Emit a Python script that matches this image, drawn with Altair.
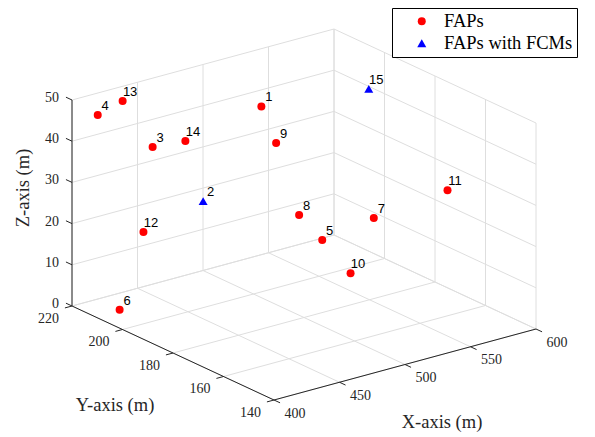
import altair as alt
import pandas as pd

# ---------------- data ----------------
fap_ids = [1, 2, 3, 4, 5, 6, 7, 8, 9, 10, 11, 12, 13, 14, 15]
fap_x = [506, 423, 423, 410, 485, 419, 534, 477, 498, 497, 571, 416, 429, 448, 588]
fap_y = [200, 180, 200, 215, 165, 211, 170, 170, 190, 160, 160, 200, 215, 200, 200]
fap_z = [45, 34.9, 42.3, 46.9, 24.4, 0, 24.1, 29.7, 39.7, 16.7, 30.5, 22.3, 48.7, 41.6, 42.2]
fap_kind = ["FAPs", "FAPs with FCMs", "FAPs", "FAPs", "FAPs", "FAPs", "FAPs", "FAPs",
            "FAPs", "FAPs", "FAPs", "FAPs", "FAPs", "FAPs", "FAPs with FCMs"]
series_names = ["FAPs", "FAPs with FCMs"]

x_ticks = [400, 450, 500, 550, 600]
y_ticks = [140, 160, 180, 200, 220]
z_ticks = [0, 10, 20, 30, 40, 50]
axis_titles = ["X-axis (m)", "Y-axis (m)", "Z-axis (m)"]

# ---------------- view / projection ----------------
X0, X1 = min(x_ticks), max(x_ticks)
Y0, Y1 = min(y_ticks), max(y_ticks)
Z0, Z1 = min(z_ticks), max(z_ticks)

W_PX, H_PX = 579, 424
P_O = (274.0, 400.0)      # screen position of (X0, Y0, Z0)
P_U = (262.0, -71.0)      # screen vector of the full x range
P_V = (-202.0, -94.0)     # screen vector of the full y range
P_W = (0.0, -206.0)       # screen vector of the full z range


def proj(xf, yf, zf):
    u = f"((datum.{xf}-{X0})/{X1 - X0})"
    v = f"((datum.{yf}-{Y0})/{Y1 - Y0})"
    w = f"((datum.{zf}-{Z0})/{Z1 - Z0})"
    sx = f"{P_O[0]}+{P_U[0]}*{u}+{P_V[0]}*{v}+{P_W[0]}*{w}"
    sy = f"{P_O[1]}+{P_U[1]}*{u}+{P_V[1]}*{v}+{P_W[1]}*{w}"
    return sx, sy


XSC = alt.Scale(domain=[8, 8 + W_PX], nice=False, zero=False)
YSC = alt.Scale(domain=[8, 8 + H_PX], nice=False, zero=False, reverse=True)

# ---------------- segments (grid, axes, ticks) ----------------
grid_rows, axis_rows, tick_rows = [], [], []
for xt in x_ticks:
    grid_rows.append((xt, Y1, Z0, xt, Y1, Z1))
    grid_rows.append((xt, Y0, Z0, xt, Y1, Z0))
for yt in y_ticks:
    grid_rows.append((X1, yt, Z0, X1, yt, Z1))
    grid_rows.append((X0, yt, Z0, X1, yt, Z0))
for zt in z_ticks:
    grid_rows.append((X0, Y1, zt, X1, Y1, zt))
    grid_rows.append((X1, Y0, zt, X1, Y1, zt))

axis_rows.append((X0, Y0, Z0, X1, Y0, Z0))
axis_rows.append((X0, Y0, Z0, X0, Y1, Z0))
axis_rows.append((X0, Y1, Z0, X0, Y1, Z1))

for xt in x_ticks:
    tick_rows.append((xt, Y0, Z0, xt, Y0 - 0.03 * (Y1 - Y0), Z0))
for yt in y_ticks:
    tick_rows.append((X0, yt, Z0, X0 - 0.027 * (X1 - X0), yt, Z0))
for zt in z_ticks:
    tick_rows.append((X0, Y1, zt, X0, Y1 + 0.03 * (Y1 - Y0), zt))

cols = ["xa", "ya", "za", "xb", "yb", "zb"]


def seg_layer(rows, color, width):
    df = pd.DataFrame(rows, columns=cols)
    sxa, sya = proj("xa", "ya", "za")
    sxb, syb = proj("xb", "yb", "zb")
    return alt.Chart(df).transform_calculate(
        sxa=sxa, sya=sya, sxb=sxb, syb=syb
    ).mark_rule(color=color, strokeWidth=width).encode(
        x=alt.X("sxa:Q", scale=XSC, axis=None),
        y=alt.Y("sya:Q", scale=YSC, axis=None),
        x2="sxb:Q",
        y2="syb:Q",
    )


grid = seg_layer(grid_rows, "#dedede", 1)
axes = seg_layer(axis_rows, "#262626", 1)
ticks = seg_layer(tick_rows, "#262626", 1)

# ---------------- tick labels ----------------
TICK_FONT = "Liberation Serif"


def label_layer(df, dx, dy, align, font, size, color, angle=0):
    sx, sy = proj("x", "y", "z")
    return alt.Chart(df).transform_calculate(sx=sx, sy=sy).mark_text(
        dx=dx, dy=dy, align=align, baseline="middle", font=font,
        fontSize=size, color=color, angle=angle
    ).encode(
        x=alt.X("sx:Q", scale=XSC, axis=None),
        y=alt.Y("sy:Q", scale=YSC, axis=None),
        text="t:N",
    )


xlab_df = pd.DataFrame({"x": x_ticks, "y": Y0, "z": Z0, "t": [str(v) for v in x_ticks]})
ylab_df = pd.DataFrame({"x": X0, "y": y_ticks, "z": Z0, "t": [str(v) for v in y_ticks]})
zlab_df = pd.DataFrame({"x": X0, "y": Y1, "z": z_ticks, "t": [str(v) for v in z_ticks]})

xlabs = label_layer(xlab_df, 21, 13.5, "center", TICK_FONT, 14, "#262626")
ylabs = label_layer(ylab_df, -23.5, 12.5, "center", TICK_FONT, 14, "#262626")
zlabs = label_layer(zlab_df, -13, -2, "right", TICK_FONT, 14, "#262626")

xt_df = pd.DataFrame({"x": [(X0 + X1) / 2], "y": [Y0], "z": [Z0], "t": [axis_titles[0]]})
yt_df = pd.DataFrame({"x": [X0], "y": [(Y0 + Y1) / 2], "z": [Z0], "t": [axis_titles[1]]})
zt_df = pd.DataFrame({"x": [X0], "y": [Y1], "z": [(Z0 + Z1) / 2], "t": [axis_titles[2]]})

xtitle = label_layer(xt_df, 37, 57, "center", TICK_FONT, 18.5, "#262626")
ytitle = label_layer(yt_df, -58, 52, "center", TICK_FONT, 18.5, "#262626")
# rotated title: offsets applied in rotated frame (dx -> up, dy -> right)
ztitle = label_layer(zt_df, 15, -49, "center", TICK_FONT, 18.5, "#262626", angle=270)

# ---------------- points ----------------
pts_df = pd.DataFrame({
    "id": fap_ids, "x": fap_x, "y": fap_y, "z": fap_z, "kind": fap_kind,
    "t": [str(i) for i in fap_ids],
})
psx, psy = proj("x", "y", "z")

leg = alt.Legend(
    title=None, orient="none", legendX=384, legendY=0, direction="vertical",
    labelFont=TICK_FONT, labelFontSize=18.5, labelColor="#000000",
    fillColor="white", strokeColor="#000000", padding=4, rowPadding=3,
    symbolOffset=16.5, labelOffset=13, symbolSize=64, symbolStrokeWidth=0,
)

points = alt.Chart(pts_df).transform_calculate(sx=psx, sy=psy).mark_point(
    filled=True, opacity=1, strokeWidth=0
).encode(
    x=alt.X("sx:Q", scale=XSC, axis=None),
    y=alt.Y("sy:Q", scale=YSC, axis=None),
    color=alt.Color("kind:N", scale=alt.Scale(domain=series_names, range=["#ff0000", "#0000ff"]), legend=leg),
    shape=alt.Shape("kind:N", scale=alt.Scale(domain=series_names, range=["circle", "triangle-up"]), legend=leg),
    size=alt.Size("kind:N", scale=alt.Scale(domain=series_names, range=[64, 81]), legend=None),
)

point_labels = alt.Chart(pts_df).transform_calculate(sx=psx, sy=psy).mark_text(
    dx=7.5, dy=-5.3, align="center", baseline="alphabetic",
    font="Liberation Sans", fontSize=13, color="#000000"
).encode(
    x=alt.X("sx:Q", scale=XSC, axis=None),
    y=alt.Y("sy:Q", scale=YSC, axis=None),
    text="t:N",
)

chart = alt.layer(
    grid, axes, ticks, xlabs, ylabs, zlabs, xtitle, ytitle, ztitle, points, point_labels
).properties(
    width=W_PX, height=H_PX, padding=0, autosize=alt.AutoSizeParams(type="none"),
    background="white",
).configure_view(stroke=None)

chart.save("out.html", embed_options={"renderer": "svg", "actions": False})
